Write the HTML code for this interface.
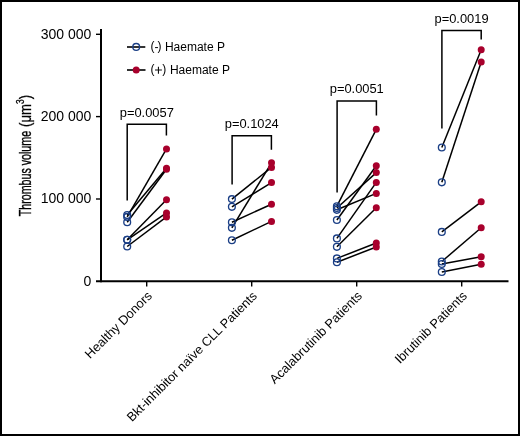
<!DOCTYPE html><html><head><meta charset="utf-8"><style>html,body{margin:0;padding:0;background:#fff}svg{display:block}text{font-family:"Liberation Sans",sans-serif;fill:#000;filter:grayscale(1)}</style></head><body>
<svg width="520" height="436" viewBox="0 0 520 436">
<rect x="0" y="0" width="520" height="436" fill="#fff"/>
<rect x="1" y="1" width="518" height="434" fill="none" stroke="#000" stroke-width="2"/>
<g stroke="#000" fill="none">
<line x1="101" y1="29" x2="101" y2="282.3" stroke-width="2"/>
<line x1="96" y1="281.3" x2="508.5" y2="281.3" stroke-width="2"/>
<line x1="96" y1="34.3" x2="101" y2="34.3" stroke-width="1.4"/>
<line x1="96" y1="116.6" x2="101" y2="116.6" stroke-width="1.4"/>
<line x1="96" y1="199.0" x2="101" y2="199.0" stroke-width="1.4"/>
<line x1="146.7" y1="281" x2="146.7" y2="286.5" stroke-width="1.4"/>
<line x1="251.7" y1="281" x2="251.7" y2="286.5" stroke-width="1.4"/>
<line x1="356.7" y1="281" x2="356.7" y2="286.5" stroke-width="1.4"/>
<line x1="461.7" y1="281" x2="461.7" y2="286.5" stroke-width="1.4"/>
<polyline points="127.2,200.4 127.2,124.2 166.4,124.2 166.4,135.4" stroke-width="1.5"/>
<polyline points="232.1,184.4 232.1,135.8 271.4,135.8 271.4,149.8" stroke-width="1.5"/>
<polyline points="337.1,192.6 337.1,101.0 376.4,101.0 376.4,115.4" stroke-width="1.5"/>
<polyline points="441.9,128.5 441.9,30.4 481.2,30.4 481.2,39.4" stroke-width="1.5"/>
<line x1="127.2" y1="216.9" x2="166.5" y2="148.9" stroke-width="1.5"/>
<line x1="127.2" y1="215.0" x2="166.5" y2="168.3" stroke-width="1.5"/>
<line x1="127.2" y1="222.2" x2="166.5" y2="169.3" stroke-width="1.5"/>
<line x1="127.2" y1="239.8" x2="166.5" y2="199.8" stroke-width="1.5"/>
<line x1="127.2" y1="239.8" x2="166.5" y2="212.9" stroke-width="1.5"/>
<line x1="127.2" y1="246.5" x2="166.5" y2="216.9" stroke-width="1.5"/>
<line x1="231.9" y1="199.1" x2="271.5" y2="167.4" stroke-width="1.5"/>
<line x1="231.9" y1="206.8" x2="271.5" y2="182.6" stroke-width="1.5"/>
<line x1="231.9" y1="222.3" x2="271.5" y2="204.2" stroke-width="1.5"/>
<line x1="231.9" y1="227.8" x2="271.5" y2="162.8" stroke-width="1.5"/>
<line x1="231.9" y1="240.2" x2="271.5" y2="221.4" stroke-width="1.5"/>
<line x1="336.9" y1="206.2" x2="376.3" y2="129.3" stroke-width="1.5"/>
<line x1="336.9" y1="208.0" x2="376.3" y2="172.6" stroke-width="1.5"/>
<line x1="336.9" y1="209.8" x2="376.3" y2="193.4" stroke-width="1.5"/>
<line x1="336.9" y1="220.0" x2="376.3" y2="165.7" stroke-width="1.5"/>
<line x1="336.9" y1="238.4" x2="376.3" y2="182.4" stroke-width="1.5"/>
<line x1="336.9" y1="246.8" x2="376.3" y2="207.7" stroke-width="1.5"/>
<line x1="336.9" y1="258.4" x2="376.3" y2="243.0" stroke-width="1.5"/>
<line x1="336.9" y1="262.2" x2="376.3" y2="247.0" stroke-width="1.5"/>
<line x1="441.8" y1="147.5" x2="481.2" y2="49.7" stroke-width="1.5"/>
<line x1="441.8" y1="182.3" x2="481.2" y2="61.9" stroke-width="1.5"/>
<line x1="441.8" y1="231.9" x2="481.2" y2="201.8" stroke-width="1.5"/>
<line x1="441.8" y1="261.5" x2="481.2" y2="227.8" stroke-width="1.5"/>
<line x1="441.8" y1="264.0" x2="481.2" y2="256.7" stroke-width="1.5"/>
<line x1="441.8" y1="272.0" x2="481.2" y2="264.3" stroke-width="1.5"/>
<line x1="127" y1="47" x2="145.3" y2="47" stroke-width="1.6"/>
<line x1="127" y1="70" x2="145.5" y2="70" stroke-width="1.6"/>
</g>
<g fill="none" stroke="#1b3f86" stroke-width="1.35">
<circle cx="127.2" cy="216.9" r="3.4"/>
<circle cx="127.2" cy="215.0" r="3.4"/>
<circle cx="127.2" cy="222.2" r="3.4"/>
<circle cx="127.2" cy="239.8" r="3.4"/>
<circle cx="127.2" cy="239.8" r="3.4"/>
<circle cx="127.2" cy="246.5" r="3.4"/>
<circle cx="231.9" cy="199.1" r="3.4"/>
<circle cx="231.9" cy="206.8" r="3.4"/>
<circle cx="231.9" cy="222.3" r="3.4"/>
<circle cx="231.9" cy="227.8" r="3.4"/>
<circle cx="231.9" cy="240.2" r="3.4"/>
<circle cx="336.9" cy="206.2" r="3.4"/>
<circle cx="336.9" cy="208.0" r="3.4"/>
<circle cx="336.9" cy="209.8" r="3.4"/>
<circle cx="336.9" cy="220.0" r="3.4"/>
<circle cx="336.9" cy="238.4" r="3.4"/>
<circle cx="336.9" cy="246.8" r="3.4"/>
<circle cx="336.9" cy="258.4" r="3.4"/>
<circle cx="336.9" cy="262.2" r="3.4"/>
<circle cx="441.8" cy="147.5" r="3.4"/>
<circle cx="441.8" cy="182.3" r="3.4"/>
<circle cx="441.8" cy="231.9" r="3.4"/>
<circle cx="441.8" cy="261.5" r="3.4"/>
<circle cx="441.8" cy="264.0" r="3.4"/>
<circle cx="441.8" cy="272.0" r="3.4"/>
<circle cx="136.2" cy="46.9" r="3.4"/>
</g>
<g fill="#a8002c">
<circle cx="166.5" cy="148.9" r="3.5"/>
<circle cx="166.5" cy="168.3" r="3.5"/>
<circle cx="166.5" cy="169.3" r="3.5"/>
<circle cx="166.5" cy="199.8" r="3.5"/>
<circle cx="166.5" cy="212.9" r="3.5"/>
<circle cx="166.5" cy="216.9" r="3.5"/>
<circle cx="271.5" cy="167.4" r="3.5"/>
<circle cx="271.5" cy="182.6" r="3.5"/>
<circle cx="271.5" cy="204.2" r="3.5"/>
<circle cx="271.5" cy="162.8" r="3.5"/>
<circle cx="271.5" cy="221.4" r="3.5"/>
<circle cx="376.3" cy="129.3" r="3.5"/>
<circle cx="376.3" cy="172.6" r="3.5"/>
<circle cx="376.3" cy="193.4" r="3.5"/>
<circle cx="376.3" cy="165.7" r="3.5"/>
<circle cx="376.3" cy="182.4" r="3.5"/>
<circle cx="376.3" cy="207.7" r="3.5"/>
<circle cx="376.3" cy="243.0" r="3.5"/>
<circle cx="376.3" cy="247.0" r="3.5"/>
<circle cx="481.2" cy="49.7" r="3.5"/>
<circle cx="481.2" cy="61.9" r="3.5"/>
<circle cx="481.2" cy="201.8" r="3.5"/>
<circle cx="481.2" cy="227.8" r="3.5"/>
<circle cx="481.2" cy="256.7" r="3.5"/>
<circle cx="481.2" cy="264.3" r="3.5"/>
<circle cx="136.2" cy="70" r="3.5"/>
</g>
<text x="91.3" y="38.5" font-size="14" text-anchor="end">300 000</text>
<text x="91.3" y="120.8" font-size="14" text-anchor="end">200 000</text>
<text x="91.3" y="203.2" font-size="14" text-anchor="end">100 000</text>
<text x="91.3" y="285.5" font-size="14" text-anchor="end">0</text>
<text transform="translate(146.8,116.5) scale(1.074,1)" font-size="12" text-anchor="middle">p=0.0057</text>
<text transform="translate(251.75,128.1) scale(1.074,1)" font-size="12" text-anchor="middle">p=0.1024</text>
<text transform="translate(356.75,93.4) scale(1.074,1)" font-size="12" text-anchor="middle">p=0.0051</text>
<text transform="translate(461.54999999999995,23.2) scale(1.074,1)" font-size="12" text-anchor="middle">p=0.0019</text>
<text x="150.5 154.6 157.4" y="50.0 50.9 50.0" font-size="12">(-)</text>
<text x="164.9" y="50.8" font-size="12">Haemate P</text>
<text x="150.5" y="73.0" font-size="12">(</text>
<text x="162.2" y="73.0" font-size="12">)</text>
<path d="M155 70.05H161.9M158.45 66.8V73.8" stroke="#111" stroke-width="1.1" fill="none"/>
<text x="169.94" y="74.1" font-size="12">Haemate P</text>
<text transform="translate(30.7,216.3) rotate(-90) scale(0.676,1)" font-size="15.8" stroke="#000" stroke-width="0.35">Thrombus volume</text>
<text transform="translate(30.7,126.9) rotate(-90) scale(0.834,1)" font-size="15.8" stroke="#000" stroke-width="0.3">(μm<tspan font-size="10" dy="-6.5">3</tspan><tspan dy="6.5">)</tspan></text>
<text transform="translate(152.7,296.7) rotate(-45)" font-size="12.85" text-anchor="end">Healthy Donors</text>
<text transform="translate(257.7,296.7) rotate(-45)" font-size="12.72" text-anchor="end">Bkt-inhibitor naïve CLL Patients</text>
<text transform="translate(362.7,296.7) rotate(-45)" font-size="12.85" text-anchor="end">Acalabrutinib Patients</text>
<text transform="translate(467.7,296.7) rotate(-45)" font-size="12.85" text-anchor="end">Ibrutinib Patients</text>
</svg></body></html>
